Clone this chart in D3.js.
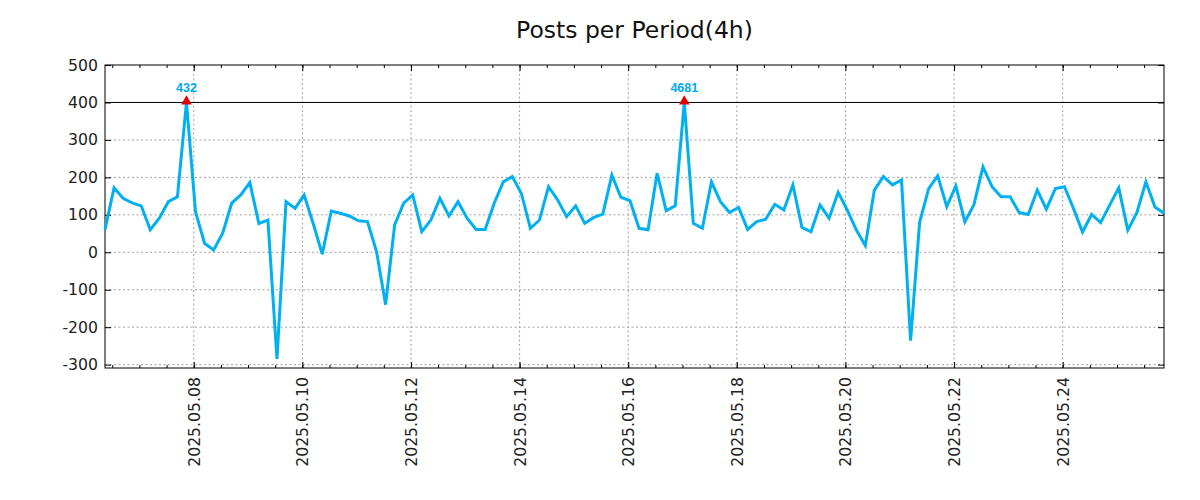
<!DOCTYPE html>
<html>
<head>
<meta charset="utf-8">
<script src="https://cdn.jsdelivr.net/npm/d3@7"></script>
<style>
  html, body { margin: 0; padding: 0; background: #fff; }
  svg { display: block; font-family: "DejaVu Sans", sans-serif; }
</style>
</head>
<body>
<svg id="chart" width="1200" height="500"></svg>
<script>
// ---- data ----
const chartTitle = "Posts per Period(4h)";
const startTime = "2025-05-06T08:47:00";
const periodHours = 4;
const postCounts = [
  60, 172, 144, 132, 124, 60, 91, 135, 148, 432,
  108, 24, 6, 51, 131, 153, 186, 77, 86, -285,
  135, 117, 153, 77, -5, 110, 104, 97, 84, 82,
  2, -140, 73, 131, 153, 55, 86, 144, 97, 135,
  91, 61, 61, 131, 188, 202, 157, 64, 86, 175,
  140, 95, 124, 77, 93, 102, 206, 147, 138, 64,
  60, 211, 111, 124, 4681, 77, 64, 188, 135, 106,
  120, 61, 82, 88, 128, 113, 180, 66, 55, 126,
  91, 160, 113, 60, 18, 166, 202, 180, 193, -236,
  80, 170, 204, 122, 177, 81, 127, 228, 175, 148,
  148, 106, 101, 166, 115, 170, 175, 117, 54, 101,
  79, 126, 172, 59, 106, 188, 121, 104
];
const capValue = 400;
const yTicks = [500, 400, 300, 200, 100, 0, -100, -200, -300];
const yDomain = [-309, 500];

// ---- layout ----
const margin = { left: 105, right: 1164, top: 65, bottom: 368 };
const svg = d3.select("#chart");

const t0 = new Date(startTime);
const times = postCounts.map((_, i) => new Date(t0.getTime() + i * periodHours * 3600 * 1000));
const data = postCounts.map((v, i) => ({ t: times[i], v: v }));

const x = d3.scaleTime().domain([times[0], times[times.length - 1]]).range([margin.left, margin.right]);
const y = d3.scaleLinear().domain(yDomain).range([margin.bottom, margin.top]);

const W = margin.right - margin.left, H = margin.bottom - margin.top;

// major/minor x ticks
const majorX = d3.timeDay.range(d3.timeDay.ceil(x.domain()[0]), x.domain()[1]).filter(d => d.getDate() % 2 === 0);
const minorX = d3.timeHour.range(d3.timeHour.ceil(x.domain()[0]), x.domain()[1]).filter(d => d.getHours() % 12 === 0);

// grid
const grid = svg.append("g");
grid.selectAll("line.gy").data(yTicks.filter(v => v !== 400 && v !== 500)).enter().append("line")
  .attr("x1", margin.left).attr("x2", margin.right)
  .attr("y1", d => y(d)).attr("y2", d => y(d))
  .attr("stroke", "#a0a0a0").attr("stroke-width", 1).attr("stroke-dasharray", "2,2.5");
grid.selectAll("line.gx").data(majorX).enter().append("line")
  .attr("x1", d => x(d)).attr("x2", d => x(d))
  .attr("y1", margin.top).attr("y2", margin.bottom)
  .attr("stroke", "#a0a0a0").attr("stroke-width", 1).attr("stroke-dasharray", "2,2.5");

// threshold line at cap
svg.append("line")
  .attr("x1", margin.left).attr("x2", margin.right)
  .attr("y1", y(capValue)).attr("y2", y(capValue))
  .attr("stroke", "#000").attr("stroke-width", 1);

// axes (inward ticks, mirrored)
const axL = svg.append("g").attr("transform", `translate(${margin.left},0)`)
  .call(d3.axisLeft(y).tickValues(yTicks).tickSize(-6).tickPadding(7).tickFormat(d => String(d)));
const axR = svg.append("g").attr("transform", `translate(${margin.right},0)`)
  .call(d3.axisRight(y).tickValues(yTicks).tickSize(-6).tickFormat(""));
const axBminor = svg.append("g").attr("transform", `translate(0,${margin.bottom})`)
  .call(d3.axisBottom(x).tickValues(minorX).tickSize(-3).tickFormat(""));
const axTminor = svg.append("g").attr("transform", `translate(0,${margin.top})`)
  .call(d3.axisTop(x).tickValues(minorX).tickSize(-3).tickFormat(""));
const axB = svg.append("g").attr("transform", `translate(0,${margin.bottom})`)
  .call(d3.axisBottom(x).tickValues(majorX).tickSize(-6).tickFormat(d3.timeFormat("%Y.%m.%d")));
const axT = svg.append("g").attr("transform", `translate(0,${margin.top})`)
  .call(d3.axisTop(x).tickValues(majorX).tickSize(-6).tickFormat(""));

[axL, axR, axB, axT, axBminor, axTminor].forEach(a => {
  a.select(".domain").remove();
  a.selectAll(".tick line").attr("stroke", "#000").attr("stroke-width", 1);
});
axL.selectAll("text").attr("font-size", "15.7px").attr("fill", "#222").attr("font-family", "DejaVu Sans, sans-serif");
axB.selectAll("text")
  .attr("font-size", "15.7px").attr("fill", "#222").attr("font-family", "DejaVu Sans, sans-serif")
  .attr("transform", "rotate(-90)")
  .attr("text-anchor", "end")
  .attr("x", -9).attr("y", 0).attr("dy", "0.35em");

// frame
svg.append("rect").attr("x", margin.left).attr("y", margin.top).attr("width", W).attr("height", H)
  .attr("fill", "none").attr("stroke", "#000").attr("stroke-width", 1);

// line
const line = d3.line().x(d => x(d.t)).y(d => y(Math.min(d.v, capValue)));
svg.append("path").datum(data)
  .attr("d", line).attr("fill", "none")
  .attr("stroke", "#00b0f0").attr("stroke-width", 3).attr("stroke-linejoin", "miter");

// capped markers + labels
const capped = data.filter(d => d.v > capValue);
svg.selectAll("path.mk").data(capped).enter().append("path")
  .attr("d", d3.symbol().type(d3.symbolTriangle).size(48))
  .attr("transform", d => `translate(${x(d.t)},${y(capValue) - 1})`)
  .attr("fill", "#e00000");
svg.selectAll("text.lbl").data(capped).enter().append("text")
  .attr("x", d => x(d.t)).attr("y", y(capValue) - 10)
  .attr("text-anchor", "middle")
  .attr("font-family", "'Liberation Sans', Arial, sans-serif")
  .attr("font-size", "12.5px").attr("font-weight", "bold")
  .attr("fill", "#00aaee")
  .text(d => d.v);

// title
svg.append("text").attr("x", (margin.left + margin.right) / 2).attr("y", 38)
  .attr("text-anchor", "middle").attr("font-size", "23.5px").attr("fill", "#111")
  .text(chartTitle);
</script>
</body>
</html>
